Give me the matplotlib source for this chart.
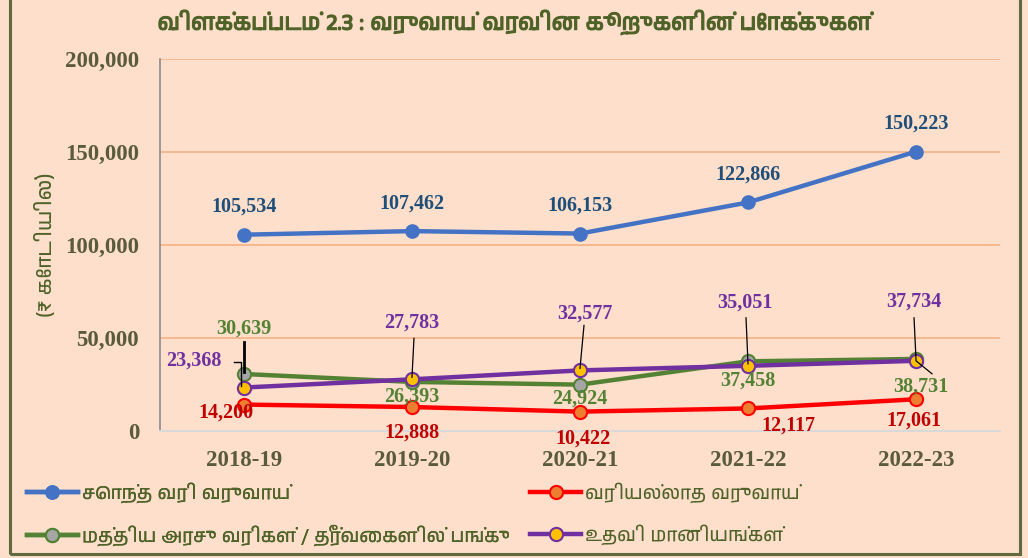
import matplotlib
matplotlib.use("Agg")
import matplotlib.pyplot as plt
from matplotlib import font_manager as fm
from matplotlib import patheffects as pe
from matplotlib.patches import Rectangle
from matplotlib.ticker import FuncFormatter
from matplotlib.lines import Line2D

# ---- data ----
years = ["2018-19", "2019-20", "2020-21", "2021-22", "2022-23"]
own_tax = [105534, 107462, 106153, 122866, 150223]
non_tax = [14200, 12888, 10422, 12117, 17061]
central_share = [30639, 26393, 24924, 37458, 38731]
grants = [23368, 27783, 32577, 35051, 37734]
series_names = ["சொந்த வரி வருவாய்", "வரியல்லாத வருவாய்",
                "மத்திய அரசு வரிகள் / தீர்வைகளில் பங்கு", "உதவி மானியங்கள்"]
title = "விளக்கப்படம் 2.3 : வருவாய் வரவின கூறுகளின் போக்குகள்"
ylabel = "(₹ கோடியில்)"
yticks = [0, 50000, 100000, 150000, 200000]

# ---- fonts ----
tamil = sorted({f.name for f in fm.fontManager.ttflist
                if "tamil" in f.name.lower() or "lohit" in f.name.lower()})
tfam = tamil + ["Noto Sans", "DejaVu Sans"]
serif = "Liberation Serif"

bg = "#FDDFCB"
olive = "#4F6228"
tickc = "#5A5A3C"

fig = plt.figure(figsize=(10.28, 5.58), dpi=100, facecolor=bg)
ax = fig.add_axes([0.1556, 0.2276, 0.8172, 0.6667], facecolor=bg)
fig.patches.append(Rectangle((0.0095, 0.008), 0.983, 1.2, transform=fig.transFigure,
                             fill=False, edgecolor="#5F6B3F", linewidth=2.2))

x = list(range(len(years)))
lw = 3.2
ms = 9.5
ax.plot(x, own_tax, color="#4472C4", lw=lw, marker="o", ms=ms, mfc="#4472C4", mec="#4472C4", zorder=3)
ax.plot(x, central_share, color="#548235", lw=lw, marker="o", ms=ms, mfc="#A5A5A5", mec="#548235", mew=1.5, zorder=3)
ax.plot(x, grants, color="#7030A0", lw=lw, marker="o", ms=ms, mfc="#FFC000", mec="#7030A0", mew=1.5, zorder=4)
ax.plot(x, non_tax, color="#FF0000", lw=lw, marker="o", ms=ms, mfc="#ED7D31", mec="#FF0000", mew=1.5, zorder=3)

ax.set_xlim(-0.5, 4.5)
ax.set_ylim(0, 200000)
ax.set_yticks(yticks)
ax.yaxis.set_major_formatter(FuncFormatter(lambda v, p: f"{int(v):,}"))
ax.set_xticks(x)
ax.set_xticklabels(years)
ax.grid(axis="y", color="#F4B183", lw=1.2)
ax.set_axisbelow(True)
for s in ["top", "right"]:
    ax.spines[s].set_visible(False)
ax.spines["left"].set_color("#8C8C8C")
ax.spines["left"].set_linewidth(1.2)
ax.spines["bottom"].set_color("#D9D9D9")
ax.spines["bottom"].set_linewidth(1.5)
ax.tick_params(length=0, labelcolor=tickc, labelsize=16.5)
ax.tick_params(axis="y", pad=15)
ax.tick_params(axis="x", pad=14)
for t in ax.get_xticklabels() + ax.get_yticklabels():
    t.set_fontfamily(serif)
    t.set_fontweight("bold")

fig.text(0.5, 0.96, title, ha="center", va="center", fontsize=16.3, fontweight="bold",
         color=olive, family=tfam,
         path_effects=[pe.withStroke(linewidth=0.8, foreground=olive)])
fig.text(0.044, 0.562, ylabel, rotation=90, ha="center", va="center", fontsize=15,
         color=olive, family=tfam)

PX = 72 / 100.0  # pixels -> points

def lab(xi, yv, dx, dy, color):
    kw = dict(textcoords="offset points", ha="center", va="center", fontsize=14.5,
              fontweight="bold", color=color, family=serif, zorder=6)
    ax.annotate(f"{yv:,}", (xi, yv), xytext=(dx * PX, dy * PX), **kw)

blue_off = [(0, 28)] * 5
for i, v in enumerate(own_tax):
    lab(i, v, *blue_off[i], "#1F4E79")

green_off = [(0, 45), (0, -15), (0, -14), (0, -19), (5, -28)]
for i, v in enumerate(central_share):
    lab(i, v, *green_off[i], "#548235")

purple_off = [(-50, 27), (0, 57), (5, 57), (-3, 63), (-2, 59)]
for i, v in enumerate(grants):
    lab(i, v, *purple_off[i], "#7030A0")

red_off = [(-18, -8), (0, -26), (3, -27), (40, -17), (-2, -21)]
for i, v in enumerate(non_tax):
    lab(i, v, *red_off[i], "#C00000")

# leader lines (offsets in pixels from the data point)
def leader(xi, yv, pts, lw_=0.9):
    base = ax.transData.transform((xi, yv))
    inv = ax.transData.inverted()
    dpts = [inv.transform((base[0] + dx, base[1] + dy)) for dx, dy in pts]
    ax.add_line(Line2D([p[0] for p in dpts], [p[1] for p in dpts], color="black",
                       lw=lw_, zorder=7))

leader(0, central_share[0], [(0, 32), (0, 2)], 2.0)
leader(0, grants[0], [(-10, 26), (-3, 26), (-3, 2)], 1.0)
leader(1, grants[1], [(2, 41), (0, 2)])
leader(2, grants[2], [(4, 45), (0, 2)])
leader(3, grants[3], [(-2, 48), (0, 2)])
leader(4, grants[4], [(-2, 43), (0, 1)])
leader(4, grants[4], [(0, 0), (16, -13)])

handles = [
    Line2D([], [], color="#4472C4", lw=lw, marker="o", ms=ms, mfc="#4472C4", mec="#4472C4"),
    Line2D([], [], color="#548235", lw=lw, marker="o", ms=ms, mfc="#A5A5A5", mec="#548235", mew=1.5),
    Line2D([], [], color="#FF0000", lw=lw, marker="o", ms=ms, mfc="#ED7D31", mec="#FF0000", mew=1.5),
    Line2D([], [], color="#7030A0", lw=lw, marker="o", ms=ms, mfc="#FFC000", mec="#7030A0", mew=1.5),
]
lkw = dict(loc="upper left", frameon=False, prop={"family": tfam, "size": 13.6},
           labelcolor=olive, handlelength=2.7, handletextpad=0.2, labelspacing=1.1,
           borderaxespad=0, borderpad=0)
leg1 = fig.legend(handles[:2], [series_names[0], series_names[2]],
                  bbox_to_anchor=(0.026, 0.135), **lkw)
fig.add_artist(leg1)
fig.legend(handles[2:], [series_names[1], series_names[3]],
           bbox_to_anchor=(0.516, 0.135), **lkw)

fig.savefig("out.png", dpi=100, facecolor=bg)
